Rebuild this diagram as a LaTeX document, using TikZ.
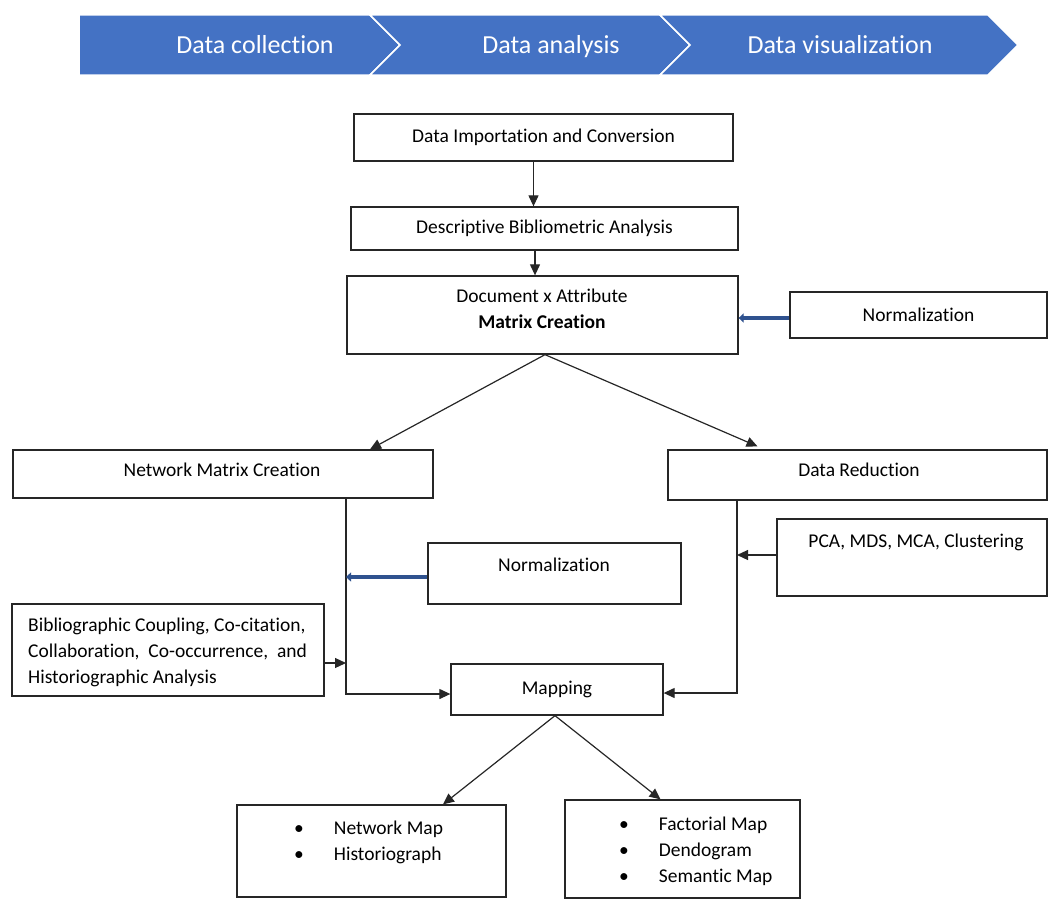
\documentclass[tikz,border=0pt]{standalone}
\usepackage{fontspec}
\setmainfont{Carlito}[Ligatures={NoCommon}]
\usetikzlibrary{arrows.meta,calc,positioning}
\definecolor{Banner}{HTML}{4472C4}
\definecolor{NormBlue}{HTML}{2F528F}
\newcommand{\boxfont}{\fontsize{19.5}{26}\selectfont}
\newcommand{\bannerfont}{\fontsize{26}{30}\selectfont}

\begin{document}
\begin{tikzpicture}[x=1pt,y=-1pt,
    box/.style={draw=black!85, line width=1.3pt, rectangle, inner sep=0pt, font=\boxfont, align=center},
    txt/.style={inner sep=0pt, font=\boxfont, align=left},
    arr/.style={-{Triangle[length=11pt,width=10pt]}, line width=1.2pt, black!85},
    bluearr/.style={-{Triangle[length=5pt,width=9pt]}, line width=4pt, NormBlue},
    phase/.style={fill=Banner, draw=white, line width=1.5pt},
    phasetext/.style={white, font=\bannerfont, anchor=base}]

    \useasboundingbox (0,0) rectangle (1048,899);

    % banner
    \filldraw[phase] (79,15) -- (370,15) -- (400,45) -- (370,75) -- (79,75) -- cycle;
    \filldraw[phase] (370,15) -- (660,15) -- (690,45) -- (660,75) -- (370,75) -- (400,45) -- cycle;
    \filldraw[phase] (660,15) -- (988,15) -- (1018,45) -- (988,75) -- (660,75) -- (690,45) -- cycle;
    \node[phasetext] (collect) at (255,53) {Data collection};
    \node[phasetext] (analyse) at (551,53) {Data analysis};
    \node[phasetext] (visual) at (840,53) {Data visualization};

    % main column
    \node[box, minimum width=379pt, minimum height=47pt] (imp) at (543.5,137.5) {Data Importation and Conversion};
    \node[box, minimum width=387pt, minimum height=43pt] (desc) at (544.5,228.5) {Descriptive Bibliometric Analysis};
    \node[box, minimum width=391pt, minimum height=78pt] (mat) at (542.5,315) {};
    \node[txt, align=center] (mat-t) at (542,309) {Document x Attribute\\\textbf{Matrix Creation}};
    \node[box, minimum width=257pt, minimum height=46pt] (norma) at (918.5,315) {Normalization};

    % second row
    \node[box, minimum width=420pt, minimum height=48pt] (netm) at (223,474) {};
    \node[txt] (netm-t) at (222,470) {Network Matrix Creation};
    \node[box, minimum width=379pt, minimum height=50pt] (dred) at (857.5,475) {};
    \node[txt] (dred-t) at (859,470) {Data Reduction};

    \node[box, minimum width=253pt, minimum height=61pt] (normb) at (554.5,573.5) {};
    \node[txt] (normb-t) at (554,565) {Normalization};
    \node[box, minimum width=270pt, minimum height=77pt] (pca) at (912,557.5) {};
    \node[txt] (pca-t) at (916,542) {PCA, MDS, MCA, Clustering};
    \node[box, minimum width=312pt, minimum height=92pt] (bib) at (168,650) {};
    \node[txt, anchor=west] (bib-t) at (28,652) {Bibliographic Coupling, Co-citation,\\Collaboration,~ Co-occurrence,~ and\\Historiographic Analysis};

    \node[box, minimum width=212pt, minimum height=51pt] (mapn) at (557,689.5) {Mapping};

    % outputs
    \node[box, minimum width=269pt, minimum height=92pt] (netmap) at (371.5,851) {};
    \node[txt, anchor=west] (netmap-t) at (294,842.5) {\textbullet\hspace{30pt}Network Map\\\textbullet\hspace{30pt}Historiograph};
    \node[box, minimum width=235pt, minimum height=98pt] (facmap) at (682.5,849) {};
    \node[txt, anchor=west] (facmap-t) at (619,851) {\textbullet\hspace{30pt}Factorial Map\\\textbullet\hspace{30pt}Dendogram\\\textbullet\hspace{30pt}Semantic Map};

    \coordinate (nl) at ([xshift=123pt]netm.south);
    \coordinate (dl) at ([xshift=-120.5pt]dred.south);

    % connectors
    \draw[arr] ([xshift=-10pt]imp.south) -- ([xshift=-10pt]imp.south |- desc.north);
    \draw[arr] ([xshift=-9.5pt]desc.south) -- ([xshift=-9.5pt]desc.south |- mat.north);
    \draw[bluearr] ([yshift=-3pt]norma.west) -- ([yshift=-3pt]norma.west -| mat.east);
    \draw[arr] ([xshift=2.5pt]mat.south) -- ([xshift=147pt]netm.north);
    \draw[arr] ([xshift=2.5pt]mat.south) -- ([xshift=-100pt,yshift=3pt]dred.north);
    \draw[arr] (nl) |- ([yshift=-4.5pt]mapn.west);
    \draw[bluearr] ([yshift=-3.5pt]normb.west) -- ([yshift=-3.5pt]normb.west -| nl);
    \draw[arr] ([yshift=-13pt]bib.east) -- ([yshift=-13pt]bib.east -| nl);
    \draw[arr] (dl) |- ([yshift=-3.5pt]mapn.east);
    \draw[arr] ([yshift=2.5pt]pca.west) -- ([yshift=2.5pt]pca.west -| dl);
    \draw[arr] ([xshift=-2pt]mapn.south) -- ([xshift=71.5pt]netmap.north);
    \draw[arr] ([xshift=-2pt]mapn.south) -- ([xshift=-22pt]facmap.north);

\end{tikzpicture}
\end{document}
